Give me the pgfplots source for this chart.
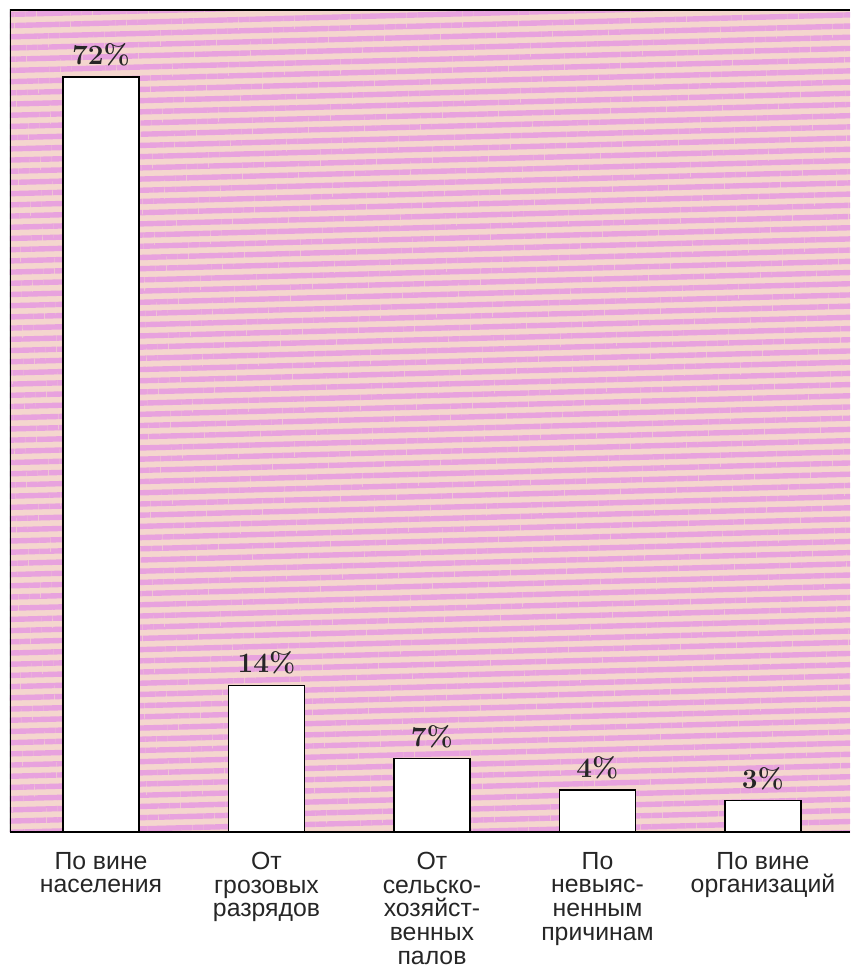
\documentclass[border=0pt]{standalone}
\usepackage{fontspec}
\usepackage{pgfplots}
\pgfplotsset{compat=1.18}
\usetikzlibrary{patterns.meta}
\newfontfamily\sansfont{Liberation Sans}
\definecolor{bgbase}{RGB}{244,214,206}
\definecolor{bgpink}{RGB}{232,162,222}
\begin{document}
\begin{tikzpicture}
\begin{axis}[
  scale only axis,
  width=420pt, height=411pt,
  xmin=-0.55, xmax=4.526,
  ymin=0, ymax=78.4,
  axis line style={draw=none},
  axis background/.style={fill=bgbase,
     postaction={pattern={Lines[angle=1.5, distance=5.6pt, line width=2.7pt]}, pattern color=bgpink}},
  xtick={0,1,2,3,4},
  xticklabels={{По вине\\населения},{От\\грозовых\\разрядов},{От\\сельско-\\хозяйст-\\венных\\палов},{По\\невыяс-\\ненным\\причинам},{По вине\\организаций}},
  xtick style={draw=none},
  ytick=\empty,
  xticklabel style={font=\sansfont\fontsize{12.4}{11.9}\selectfont, align=center, anchor=north, inner sep=0pt, yshift=-5.5pt, text=black!85},
  ybar, bar width=38pt,
  nodes near coords={\pgfmathprintnumber[assume math mode=true]{\pgfplotspointmeta}\%},
  nodes near coords style={font=\fontsize{14}{16}\selectfont\bfseries, anchor=south, inner sep=0pt, yshift=5pt, text=black!85},
]
\addplot[draw=black, line width=0.7pt, fill=white] coordinates {(0,72) (1,14) (2,7) (3,4) (4,3)};
\draw[line width=1pt] (rel axis cs:1,1) -- (rel axis cs:0,1) -- (rel axis cs:0,0);
\draw[line width=1.5pt] (rel axis cs:0,0) -- (rel axis cs:1,0);
\coordinate (bbsw) at (rel axis cs:-0.0119,-0.16423);
\coordinate (bbne) at (rel axis cs:1,1.01217);
\end{axis}
\pgfresetboundingbox
\useasboundingbox (bbsw) rectangle (bbne);
\end{tikzpicture}
\end{document}
